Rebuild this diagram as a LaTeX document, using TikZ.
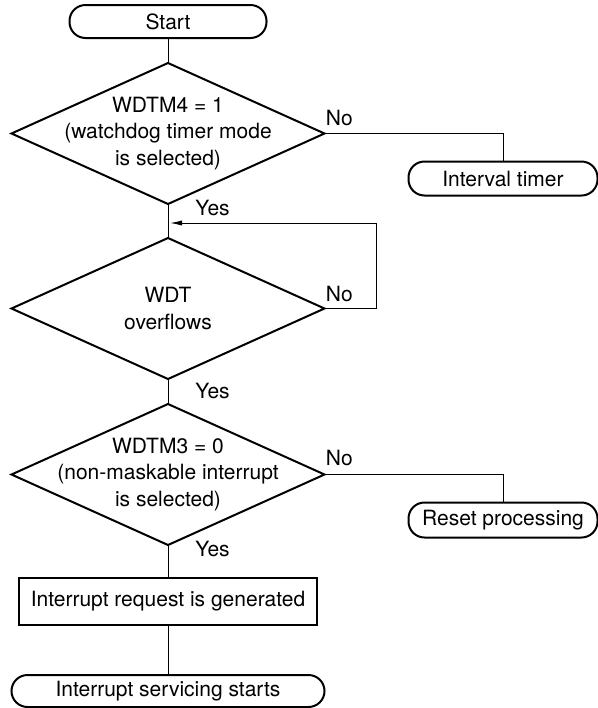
\documentclass[tikz,border=0pt]{standalone}
\usepackage{fontspec}
\setmainfont{TeX Gyre Heros}
\usetikzlibrary{arrows.meta,positioning,shapes.geometric}

\begin{document}
\begin{tikzpicture}[
  x=0.5pt, y=-0.5pt,
  font=\fontsize{10.5}{13.25}\selectfont,
  term/.style={draw, line width=1pt, rounded corners=8pt, minimum height=16.5pt, inner sep=0pt, outer sep=0pt},
  proc/.style={draw, line width=1pt, minimum width=149pt, minimum height=23.5pt, inner sep=0pt, outer sep=0pt},
  decision/.style={draw, diamond, line width=1pt, minimum width=156.5pt, minimum height=70.5pt, inner sep=0pt, outer sep=0pt},
  lbl/.style={inner sep=0pt},
  line/.style={line width=0.5pt},
  arr/.style={line width=0.5pt, -{Latex[length=6pt, width=2.6pt]}}
]
\useasboundingbox (0,0) rectangle (598,708);

\node[term, minimum width=98.5pt] (start) at (168,21.5) {Start};
\node[decision, below=12.5pt of start, label={[align=center]center:{WDTM4 = 1\\(watchdog timer mode\\is selected)}}] (wdtm4) {};
\node[decision, below=17pt of wdtm4, label={[align=center]center:{WDT\\overflows}}] (wdt) {};
\node[decision, below=12.5pt of wdt, label={[align=center]center:{WDTM3 = 0\\(non-maskable interrupt\\is selected)}}] (wdtm3) {};
\node[proc, below=16.5pt of wdtm3] (irq) {Interrupt request is generated};
\node[term, minimum width=156.5pt, minimum height=16pt, below=25pt of irq] (isr) {Interrupt servicing starts};

\node[term, minimum width=94.5pt, minimum height=17pt, below right=14pt and 42pt of wdtm4.east] (timer) {Interval timer};
\node[term, minimum width=94.5pt, minimum height=17.5pt, below right=14pt and 42pt of wdtm3.east] (reset) {Reset processing};

\coordinate[below=9.5pt of wdtm4.south] (merge);
\coordinate[right=26pt of wdt.east] (loopr);

\draw[line] (start) -- (wdtm4);
\draw[line] (wdtm4) -- (wdt);
\draw[line] (wdt) -- (wdtm3);
\draw[line] (wdtm3) -- (irq);
\draw[line] (irq) -- (isr);
\draw[line] (wdtm4.east) -| (timer.north);
\draw[line] (wdtm3.east) -| (reset.north);
\draw[arr, shorten >=1pt] (wdt.east) -- (loopr) |- (merge);

\node[lbl, above right=3.5pt and 0.5pt of wdtm4.east] (no1) {No};
\node[lbl, above right=3pt and 0.5pt of wdt.east] (no2) {No};
\node[lbl, above right=4pt and 0.5pt of wdtm3.east] (no3) {No};
\node[lbl, below right=-2pt and 13.5pt of wdtm4.south] (yes1) {Yes};
\node[lbl, below right=2pt and 13.5pt of wdt.south] (yes2) {Yes};
\node[lbl, below right=-2pt and 13.5pt of wdtm3.south] (yes3) {Yes};
\end{tikzpicture}
\end{document}
